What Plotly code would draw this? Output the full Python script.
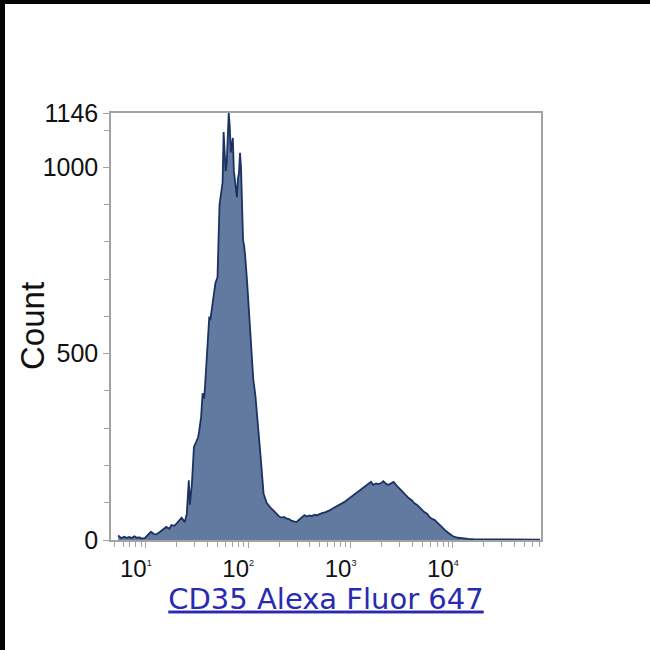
import plotly.graph_objects as go

# Histogram: channel position (log10 of intensity) and count
log_intensity = [0.73, 0.76, 0.79, 0.81, 0.84, 0.86, 0.89, 0.91, 0.94, 0.96, 0.99,
                 1.02, 1.05, 1.08, 1.10, 1.13, 1.15, 1.18, 1.20, 1.23, 1.25, 1.28,
                 1.30, 1.33, 1.35, 1.38, 1.40, 1.42, 1.43, 1.45, 1.47, 1.49, 1.51,
                 1.52, 1.54, 1.555, 1.57, 1.58, 1.60, 1.62, 1.63, 1.65, 1.67, 1.68,
                 1.70, 1.71, 1.72, 1.74, 1.75, 1.76, 1.77, 1.78, 1.79, 1.80, 1.81,
                 1.82, 1.83, 1.84, 1.85, 1.86, 1.87, 1.88, 1.89, 1.90, 1.91, 1.92,
                 1.93, 1.94, 1.95, 1.96, 1.97, 1.99, 2.00, 2.02, 2.04, 2.05, 2.07,
                 2.09, 2.10, 2.12, 2.14, 2.15, 2.18, 2.20, 2.22, 2.25, 2.27, 2.30,
                 2.32, 2.35, 2.37, 2.40, 2.42, 2.45, 2.47, 2.50, 2.52, 2.55, 2.57,
                 2.60, 2.62, 2.65, 2.67, 2.70, 2.72, 2.75, 2.77, 2.80, 2.82, 2.85,
                 2.87, 2.90, 2.92, 2.95, 2.97, 3.00, 3.02, 3.05, 3.07, 3.10, 3.12,
                 3.15, 3.17, 3.20, 3.22, 3.25, 3.27, 3.30, 3.32, 3.35, 3.37, 3.40,
                 3.42, 3.45, 3.47, 3.50, 3.52, 3.55, 3.57, 3.60, 3.62, 3.65, 3.67,
                 3.70, 3.72, 3.75, 3.77, 3.80, 3.82, 3.85, 3.87, 3.90, 3.92, 3.95,
                 3.97, 4.00, 4.05, 4.10, 4.15, 4.20, 4.30, 4.40, 4.50, 4.60, 4.70,
                 4.85]
counts = [12, 5, 9, 6, 8, 5, 10, 6, 7, 4, 5,
          14, 22, 16, 15, 20, 24, 32, 35, 30, 40, 38,
          45, 55, 60, 48, 70, 160, 95, 150, 250, 262, 275,
          290, 330, 394, 380, 420, 520, 600, 590, 630, 675, 690,
          705, 800, 900, 940, 960, 1095, 1020, 990, 1010, 1080, 1146,
          1110, 1040, 1060, 1079, 990, 960, 950, 920, 970, 985, 1039,
          1000, 900, 805, 790, 765, 690, 650, 563, 480, 430, 389,
          330, 290, 228, 160, 125, 100, 92, 86, 78, 72, 64,
          60, 62, 58, 56, 52, 50, 48, 55, 60, 67, 63,
          66, 64, 68, 66, 70, 72, 74, 76, 80, 84, 88,
          92, 95, 99, 104, 108, 115, 120, 126, 130, 136, 140,
          144, 150, 156, 148, 152, 150, 153, 158, 150, 148, 152,
          156, 146, 140, 132, 126, 118, 112, 106, 99, 94, 88,
          82, 75, 70, 62, 56, 54, 46, 40, 33, 27, 20,
          15, 10, 6, 4, 3, 2, 2, 1, 1, 1, 1,
          1]

intensity = [10 ** v for v in log_intensity]

x_tick_vals = [10, 100, 1000, 10000]
x_tick_exps = [1, 2, 3, 4]
x_tick_text = ["10<sup><span style='font-size:9px'>%d</span></sup>&nbsp;&nbsp;&nbsp;" % e
               for e in x_tick_exps]
x_minor_vals = [m * 10 ** d for d in range(0, 5) for m in range(2, 10)]
y_tick_vals = [0, 500, 1000, 1146]
y_minor_vals = [100, 200, 300, 400, 600, 700, 800, 900, 1100]
y_title = "Count"
x_title = "CD35 Alexa Fluor 647"

fill_color = "#6279a0"
line_color = "#1b3263"
axis_color = "#a3a3a3"

fig = go.Figure()
fig.add_trace(go.Scatter(
    x=intensity, y=counts, mode="lines",
    line=dict(color=line_color, width=1.8),
    fill="tozeroy", fillcolor=fill_color,
    hoverinfo="skip", showlegend=False,
))

L, R, T, B = 111, 109, 113, 110
W = H = 650

fig.update_layout(
    width=W, height=H,
    margin=dict(l=L, r=R, t=T, b=B),
    paper_bgcolor="rgba(0,0,0,0)", plot_bgcolor="white",
    font=dict(family="Arial, Liberation Sans, sans-serif", color="#111"),
    showlegend=False,
    annotations=[dict(
        text=y_title, textangle=-90, showarrow=False,
        xref="paper", yref="paper", x=0, y=0.5,
        xanchor="right", yanchor="middle", xshift=-58,
        font=dict(size=33, color="#111"),
    )],
)

fig.update_xaxes(
    type="log", range=[0.66, 4.86],
    tickvals=x_tick_vals, ticktext=x_tick_text,
    ticks="outside", ticklen=6, tickcolor=axis_color, tickwidth=1,
    tickfont=dict(size=24, color="#111"),
    minor=dict(tickvals=x_minor_vals, ticks="outside", ticklen=5,
               tickcolor=axis_color, tickwidth=1),
    showline=True, linecolor=axis_color, linewidth=1.5, mirror=True,
    showgrid=False, zeroline=False,
    title=dict(text="<u>%s</u>" % x_title,
               font=dict(size=29, color="#2a2ab0",
                         family="DejaVu Sans, Verdana, sans-serif"),
               standoff=6),
)
fig.update_yaxes(
    range=[0, 1146],
    tickvals=y_tick_vals, ticktext=[str(v) for v in y_tick_vals],
    ticks="outside", ticklen=6, tickcolor=axis_color, tickwidth=1,
    tickfont=dict(size=25, color="#111"),
    minor=dict(tickvals=y_minor_vals, ticks="outside", ticklen=5,
               tickcolor=axis_color, tickwidth=1),
    showline=True, linecolor=axis_color, linewidth=1.5, mirror=True,
    showgrid=False, zeroline=False,
)

frame_js = """
document.body.style.margin = '0px';
document.body.style.background = 'white';
function band(css) {
  var d = document.createElement('div');
  d.style.cssText = 'position:fixed;background:#050505;z-index:1000;pointer-events:none;' + css;
  document.body.appendChild(d);
}
band('left:0;top:0;width:100%;height:4px;');
band('left:0;top:0;width:5px;height:100%;');
"""

fig.write_html("out.html", config={"displayModeBar": False}, post_script=frame_js)
